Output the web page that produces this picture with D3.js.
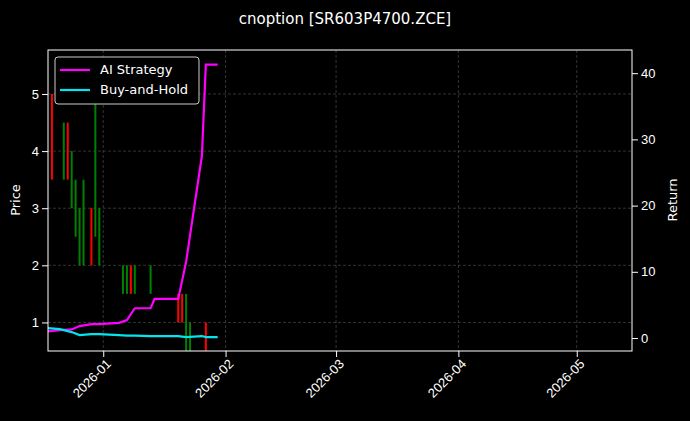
<!DOCTYPE html><html><head><meta charset="utf-8"><script src="https://cdn.jsdelivr.net/npm/d3@7"></script>
<style>body{margin:0;background:#000}svg{font-family:"DejaVu Sans",sans-serif}</style></head><body><svg id="c" width="690" height="421"></svg><script>
const candleDates=["2025-12-19","2025-12-22","2025-12-23","2025-12-24","2025-12-25","2025-12-26","2025-12-27","2025-12-29","2025-12-30","2025-12-31","2026-01-06","2026-01-07","2026-01-08","2026-01-09","2026-01-13","2026-01-20","2026-01-21","2026-01-22","2026-01-23","2026-01-27"];
const opens =[5,3.5,4.5,3,2.5,2,2,3,2.5,2,1.5,1.5,2,1.5,1.5,1.5,1.5,0.5,0.5,1];
const closes=[3.5,4.5,3.5,4,3.5,3,3.5,2,5,3,2,2,1.5,2,2,1,1,1.5,1,0.5];
const lineDates=["2025-12-18","2025-12-21","2025-12-24","2025-12-26","2025-12-29","2025-12-31","2026-01-05","2026-01-07","2026-01-09","2026-01-13","2026-01-14","2026-01-20","2026-01-22","2026-01-26","2026-01-27","2026-01-30"];
const aiRet=[1.0,1.2,1.3,1.8,2.1,2.1,2.3,2.7,4.5,4.5,5.9,5.9,11.5,27.5,41.3,41.3];
const bhRet=[1.5,1.35,0.9,0.45,0.6,0.6,0.45,0.35,0.35,0.3,0.3,0.3,0.15,0.3,0.15,0.15];
const xTicks=["2026-01-01","2026-02-01","2026-03-01","2026-04-01","2026-05-01"];
const P=d3.timeParse("%Y-%m-%d");
const svg=d3.select("#c");
const L=48,R=632,T=50,B=351;
const x=d3.scaleTime().domain([P("2025-12-18"),P("2026-05-15")]).range([L,R]);
const y=d3.scaleLinear().domain([0.5,5.77]).range([B,T]);
const y2=d3.scaleLinear().domain([-1.96,43.5]).range([B,T]);
const g=svg.append("g");
xTicks.forEach(t=>g.append("line").attr("x1",x(P(t))).attr("x2",x(P(t))).attr("y1",T).attr("y2",B).attr("stroke","#555").attr("stroke-width",0.6).attr("stroke-dasharray","3,2"));
[1,2,3,4,5].forEach(t=>g.append("line").attr("x1",L).attr("x2",R).attr("y1",y(t)).attr("y2",y(t)).attr("stroke","#555").attr("stroke-width",0.6).attr("stroke-dasharray","3,2"));
candleDates.forEach((d,i)=>{const o=opens[i],c=closes[i];
g.append("rect").attr("x",x(P(d))-1).attr("width",2).attr("y",y(Math.max(o,c))).attr("height",y(Math.min(o,c))-y(Math.max(o,c))).attr("fill",c>=o?"#008000":"#ff0000");});
const ln=(arr,col)=>g.append("path").datum(arr).attr("fill","none").attr("stroke",col).attr("stroke-width",2.2)
 .attr("d",d3.line().x((v,i)=>x(P(lineDates[i]))).y(v=>y2(v)));
ln(aiRet,"#ff00ff");ln(bhRet,"#00e5ee");
const ax=svg.append("g").attr("transform",`translate(0,${B})`).call(d3.axisBottom(x).tickValues(xTicks.map(P)).tickFormat(d3.timeFormat("%Y-%m")).tickSizeOuter(0));
ax.selectAll("text").attr("transform","rotate(-45)").style("text-anchor","end").attr("dx","-0.3em").attr("dy","0.5em");
const ay=svg.append("g").attr("transform",`translate(${L},0)`).call(d3.axisLeft(y).tickValues([1,2,3,4,5]).tickFormat(d3.format("d")).tickSizeOuter(0));
const ay2=svg.append("g").attr("transform",`translate(${R},0)`).call(d3.axisRight(y2).tickValues([0,10,20,30,40]).tickSizeOuter(0));
[ax,ay,ay2].forEach(a=>{a.selectAll("text").attr("fill","#fff").style("font-size","13px");a.selectAll("line").attr("stroke","#fff");a.select(".domain").attr("stroke","none");});
svg.append("rect").attr("x",L).attr("y",T).attr("width",R-L).attr("height",B-T).attr("fill","none").attr("stroke","#fff").attr("stroke-width",1);
svg.append("text").attr("x",345).attr("y",24).attr("text-anchor","middle").attr("fill","#fff").style("font-size","15px").text("cnoption [SR603P4700.ZCE]");
svg.append("text").attr("transform","translate(20,200) rotate(-90)").attr("text-anchor","middle").attr("fill","#fff").style("font-size","13px").text("Price");
svg.append("text").attr("transform","translate(677,200) rotate(-90)").attr("text-anchor","middle").attr("fill","#fff").style("font-size","13px").text("Return");
const lg=svg.append("g");
lg.append("rect").attr("x",55).attr("y",57).attr("width",144).attr("height",47).attr("rx",3).attr("fill","#000").attr("stroke","#ccc");
[["AI Strategy","#ff00ff"],["Buy-and-Hold","#00e5ee"]].forEach(([t,c],i)=>{const yy=70+i*20;
lg.append("line").attr("x1",60).attr("x2",90).attr("y1",yy).attr("y2",yy).attr("stroke",c).attr("stroke-width",2.2);
lg.append("text").attr("x",100).attr("y",yy+4).attr("fill","#fff").style("font-size","13px").text(t);});
</script></body></html>
